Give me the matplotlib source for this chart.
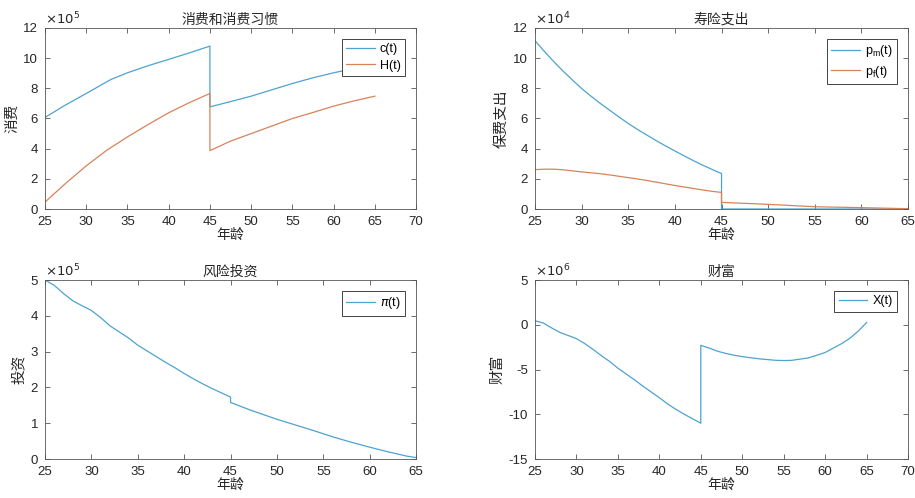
import matplotlib
matplotlib.use("Agg")
import matplotlib.pyplot as plt

plt.rcParams['font.family'] = ['Liberation Sans', 'Noto Sans CJK SC', 'DejaVu Sans']
plt.rcParams['axes.unicode_minus'] = False

BLUE = '#4da3d0'
ORANGE = '#d9825a'
GRAY = '#555555'

# consumption and habit (x10^5)
age_c = [25, 27.5, 30, 33, 35, 37.5, 40, 42.5, 45, 45, 47.5, 50, 52.5, 55, 57.5, 60, 62.5, 65]
c_t = [6.07, 6.9, 7.66, 8.59, 9.03, 9.5, 9.92, 10.35, 10.8, 6.77, 7.12, 7.48, 7.9, 8.32, 8.7, 9.03, 9.32, 9.65]
age_h = [25, 27.5, 30, 32.5, 35, 37.5, 40, 42.5, 45, 45, 47.5, 50, 52.5, 55, 57.5, 60, 62.5, 65]
h_t = [0.46, 1.7, 2.86, 3.9, 4.78, 5.6, 6.38, 7.05, 7.66, 3.87, 4.5, 5.0, 5.5, 6.0, 6.4, 6.82, 7.17, 7.48]

# life insurance (x10^4)
age_p = [25, 26, 27, 28, 29, 30, 31, 32, 33, 34, 35, 36, 37, 38, 39, 40, 41, 42, 43, 44, 45, 45,
         50, 55, 60, 65]
pm_t = [11.16, 10.45, 9.78, 9.15, 8.56, 7.99, 7.48, 7.0, 6.55, 6.1, 5.67, 5.27, 4.9, 4.53, 4.18,
        3.85, 3.52, 3.2, 2.9, 2.62, 2.35, 0, 0, 0, 0, 0]
pf_t = [2.61, 2.64, 2.64, 2.6, 2.53, 2.46, 2.4, 2.34, 2.26, 2.17, 2.08, 1.99, 1.89, 1.78, 1.67,
        1.56, 1.46, 1.36, 1.26, 1.17, 1.1, 0.44, 0.31, 0.15, 0.09, 0.02]

# risky investment (x10^5)
age_pi = [25, 26, 27, 28, 29, 30, 31, 32, 33, 34, 35, 36, 37, 38, 39, 40, 41, 42, 43, 44, 45, 45,
          46, 47, 48, 49, 50, 52, 54, 56, 58, 60, 62, 64, 65]
pi_t = [5.0, 4.85, 4.62, 4.42, 4.28, 4.15, 3.95, 3.72, 3.55, 3.38, 3.18, 3.02, 2.86, 2.7, 2.55,
        2.39, 2.24, 2.1, 1.97, 1.85, 1.73, 1.58, 1.48, 1.38, 1.29, 1.2, 1.11, 0.95, 0.79, 0.62,
        0.47, 0.33, 0.2, 0.08, 0.04]

# wealth (x10^6)
age_x = [25, 26, 27, 28, 29, 30, 31, 32, 33, 34, 35, 36, 37, 38, 39, 40, 41, 42, 43, 44, 45, 45,
         46, 47, 48, 49, 50, 52, 54, 55, 56, 58, 60, 62, 63, 64, 65]
x_t = [0.45, 0.2, -0.35, -0.85, -1.2, -1.55, -2.1, -2.75, -3.45, -4.1, -4.85, -5.5, -6.15, -6.85,
       -7.5, -8.15, -8.85, -9.45, -10.0, -10.5, -11.0, -2.3, -2.6, -2.95, -3.2, -3.4, -3.56, -3.8,
       -3.97, -4.0, -3.97, -3.7, -3.1, -2.1, -1.5, -0.7, 0.25]

fig = plt.figure(figsize=(9.15, 4.98), dpi=100)
ax1 = fig.add_axes([0.0492, 0.5803, 0.4055, 0.3635])
ax2 = fig.add_axes([0.5847, 0.5803, 0.4077, 0.3635])
ax3 = fig.add_axes([0.0492, 0.0783, 0.4055, 0.3594])
ax4 = fig.add_axes([0.5847, 0.0783, 0.4077, 0.3594])


def style(ax, title, ylabel, xlim, ylim, yticks, expo):
    ax.set_xlim(*xlim)
    ax.set_ylim(*ylim)
    ax.set_xticks(range(xlim[0], xlim[1] + 1, 5))
    ax.set_yticks(yticks)
    ax.tick_params(direction='in', top=True, right=True, length=3.5, width=0.6,
                   labelsize=9.5, colors=GRAY, labelcolor='#262626')
    ax.tick_params(axis='x', pad=5)
    ax.tick_params(axis='y', pad=5)
    for s in ax.spines.values():
        s.set_color(GRAY)
        s.set_linewidth(0.6)
    ax.set_title(title, fontsize=10, color='#262626', pad=3)
    ax.set_xlabel('年龄', fontsize=10, color='#262626', labelpad=0)
    ax.set_ylabel(ylabel, fontsize=10.5, color='#262626', labelpad=3)
    ax.text(0, 1.005, r'$\times10^{%d}$' % expo, transform=ax.transAxes,
            ha='left', va='bottom', fontsize=9.5, color='#262626')


def legend(ax):
    leg = ax.legend(loc='upper right', bbox_to_anchor=(1 - 11 / 371, 1 - 11 / 181),
                    borderaxespad=0, fontsize=9, handlelength=2.3, handletextpad=0.4,
                    fancybox=False, framealpha=1, edgecolor='#262626',
                    borderpad=0.35, labelspacing=0.35)
    leg.get_frame().set_linewidth(0.6)


ax1.plot(age_c, c_t, color=BLUE, lw=0.9, label='c(t)')
ax1.plot(age_h, h_t, color=ORANGE, lw=0.9, label='H(t)')
style(ax1, '消费和消费习惯', '消费', (25, 70), (0, 12), range(0, 13, 2), 5)
legend(ax1)

ax2.plot(age_p, pm_t, color=BLUE, lw=0.9, label=r'p$_\mathregular{m}$(t)')
ax2.plot(age_p, pf_t, color=ORANGE, lw=0.9, label=r'p$_\mathregular{f}$(t)')
style(ax2, '寿险支出', '保费支出', (25, 65), (0, 12), range(0, 13, 2), 4)
legend(ax2)

ax3.plot(age_pi, pi_t, color=BLUE, lw=0.9, label=r'$\pi$(t)')
style(ax3, '风险投资', '投资', (25, 65), (0, 5), range(0, 6), 5)
legend(ax3)

ax4.plot(age_x, x_t, color=BLUE, lw=0.9, label='X(t)')
style(ax4, '财富', '财富', (25, 70), (-15, 5), range(-15, 6, 5), 6)
legend(ax4)

fig.savefig('out.png', dpi=100)
